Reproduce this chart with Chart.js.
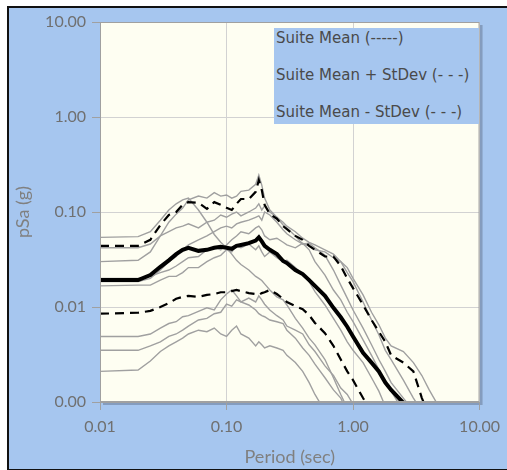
<!DOCTYPE html>
<html>
<head>
<meta charset="utf-8">
<script src="https://cdn.jsdelivr.net/npm/chart.js@4"></script>
<style>
  body { margin: 0; background: #fff; }
  #frame {
    position: absolute; left: 7px; top: 6px; width: 502px; height: 461px;
    border-top: 2px solid #111; border-left: 2px solid #111; border-bottom: 2px solid #111;
    background: rgb(166,198,239);
  }
  #wrap { position: absolute; left: 0; top: 0; width: 507px; height: 470px; }
  #legend {
    position: absolute; left: 274px; top: 28px; width: 205px; height: 96px;
    background: rgb(166,198,239); font: 15px "DejaVu Sans", Verdana, sans-serif; color: #4a4a4a;
  }
  #legend div { position: absolute; left: 2px; height: 18px; line-height: 18px; white-space: nowrap; }
</style>
</head>
<body>
<div id="frame"></div>
<div id="wrap"><canvas id="spectra" width="507" height="470"></canvas></div>
<div id="legend">
  <div style="top:1px">Suite Mean (-----)</div>
  <div style="top:38px">Suite Mean + StDev (- - -)</div>
  <div style="top:75px">Suite Mean - StDev (- - -)</div>
</div>
<script>
// periods (sec) shared by all curves
var periods = [0.01, 0.02, 0.025, 0.03, 0.035, 0.04, 0.045, 0.05, 0.06, 0.07, 0.08, 0.09,
  0.1, 0.11, 0.12, 0.13, 0.15, 0.17, 0.18, 0.19, 0.2, 0.22, 0.25, 0.28, 0.3, 0.35, 0.4,
  0.45, 0.5, 0.6, 0.7, 0.8, 0.9, 1.0, 1.2, 1.4, 1.6, 1.8, 2.0, 2.5, 3.0, 3.5, 4.0, 5.0]

var xTicks = [0.01, 0.1, 1, 10]
var yTicks = [0.001, 0.01, 0.1, 1, 10]

// suite statistics (g)
var suiteMean = [0.0192, 0.0192, 0.0217, 0.0265, 0.031, 0.036, 0.040, 0.042, 0.039, 0.040, 0.042, 0.043,
  0.042, 0.041, 0.044, 0.045, 0.047, 0.050, 0.054, 0.049, 0.044, 0.040, 0.036, 0.0305, 0.029, 0.0245, 0.0222,
  0.0192, 0.0167, 0.0131, 0.0098, 0.0078, 0.0062, 0.0049, 0.0033, 0.0026, 0.0021, 0.0016, 0.00134, 0.00098, 0.00073]
var meanPlusStd = [0.044, 0.044, 0.051, 0.073, 0.093, 0.100, 0.119, 0.127, 0.125, 0.108, 0.127, 0.119,
  0.111, 0.105, 0.122, 0.137, 0.137, 0.163, 0.217, 0.170, 0.119, 0.095, 0.085, 0.071, 0.066, 0.056, 0.051,
  0.044, 0.040, 0.034, 0.034, 0.027, 0.020, 0.0158, 0.0105, 0.0073, 0.0055, 0.0043, 0.0031, 0.0026, 0.0021, 0.0011, 0.00073]
var meanMinusStd = [0.0085, 0.0087, 0.0091, 0.0100, 0.0110, 0.0122, 0.0128, 0.0131, 0.0128, 0.0134, 0.0137, 0.0143,
  0.0143, 0.0147, 0.0151, 0.0147, 0.0140, 0.0137, 0.0134, 0.0140, 0.0143, 0.0151, 0.0137, 0.0122, 0.0113, 0.0102, 0.0095,
  0.0082, 0.0068, 0.0053, 0.0039, 0.0028, 0.0021, 0.0017, 0.0011, 0.00078]

// individual records (g)
var rec1 = [0.054, 0.055, 0.062, 0.082, 0.105, 0.122, 0.134, 0.140, 0.105, 0.078, 0.058, 0.048,
  0.042, 0.036, 0.031, 0.028, 0.0245, 0.021, 0.020, 0.019, 0.0175, 0.0151, 0.0128, 0.0119, 0.0105, 0.0076, 0.0060,
  0.0047, 0.0040, 0.0028, 0.0018, 0.0012, 0.00086]
var rec2 = [0.030, 0.031, 0.038, 0.056, 0.078, 0.095, 0.110, 0.134, 0.147, 0.140, 0.160, 0.147,
  0.151, 0.140, 0.147, 0.165, 0.170, 0.196, 0.245, 0.192, 0.140, 0.105, 0.088, 0.073, 0.068, 0.056, 0.046,
  0.044, 0.040, 0.038, 0.033, 0.030, 0.026, 0.020, 0.0134, 0.0088, 0.0065, 0.0047, 0.0039, 0.0034, 0.0026, 0.0019, 0.00134, 0.0008]
var rec3 = [0.0185, 0.0185, 0.020, 0.0245, 0.030, 0.034, 0.040, 0.045, 0.051, 0.056, 0.062, 0.068,
  0.071, 0.068, 0.075, 0.078, 0.082, 0.088, 0.091, 0.082, 0.100, 0.093, 0.078, 0.065, 0.059, 0.051, 0.046,
  0.047, 0.042, 0.035, 0.0245, 0.017, 0.0124, 0.0093, 0.006, 0.004, 0.0028, 0.0021, 0.0016, 0.0011, 0.0008]
var rec4 = [0.020, 0.020, 0.021, 0.023, 0.0245, 0.027, 0.030, 0.033, 0.034, 0.040, 0.043, 0.040,
  0.045, 0.051, 0.056, 0.062, 0.059, 0.068, 0.071, 0.065, 0.056, 0.051, 0.053, 0.048, 0.045, 0.042, 0.047,
  0.040, 0.030, 0.0217, 0.0151, 0.0119, 0.0088, 0.0070, 0.0045, 0.0031, 0.0022, 0.0016, 0.0013, 0.0008]
var rec5 = [0.0167, 0.017, 0.017, 0.0192, 0.021, 0.021, 0.023, 0.026, 0.026, 0.030, 0.033, 0.035,
  0.040, 0.038, 0.044, 0.042, 0.046, 0.040, 0.044, 0.038, 0.034, 0.038, 0.033, 0.030, 0.031, 0.026, 0.0217,
  0.0185, 0.0145, 0.0105, 0.0076, 0.0057, 0.0043, 0.0035, 0.0026, 0.0018, 0.0013, 0.0009]
var rec6 = [0.0049, 0.0049, 0.0052, 0.006, 0.0067, 0.007, 0.0079, 0.0081, 0.0090, 0.0098, 0.0093, 0.0119,
  0.0137, 0.0151, 0.0131, 0.0113, 0.0105, 0.0093, 0.0085, 0.0081, 0.0079, 0.0073, 0.007, 0.0067, 0.0057, 0.0047, 0.0037,
  0.0031, 0.0025, 0.0018, 0.00134, 0.0011, 0.0008]
var rec7 = [0.0035, 0.0035, 0.0039, 0.0043, 0.0049, 0.0052, 0.0057, 0.0063, 0.0073, 0.0076, 0.0085, 0.0088,
  0.0107, 0.0102, 0.0119, 0.0113, 0.0124, 0.0113, 0.0131, 0.0119, 0.0107, 0.0093, 0.0081, 0.0073, 0.0063, 0.0057, 0.0052,
  0.0040, 0.0034, 0.0024, 0.0019, 0.0014, 0.0012, 0.00095, 0.0008]
var rec8 = [0.0021, 0.00217, 0.0027, 0.0034, 0.0039, 0.0043, 0.0047, 0.0052, 0.0057, 0.0055, 0.006, 0.0052,
  0.0049, 0.0057, 0.0063, 0.0052, 0.0047, 0.0039, 0.0043, 0.0040, 0.0037, 0.0039, 0.0037, 0.0035, 0.0031, 0.0026, 0.0021,
  0.0016, 0.0012, 0.0008]
var rec9 = [0.042, 0.042, 0.046, 0.056, 0.062, 0.068, 0.071, 0.075, 0.068, 0.078, 0.082, 0.093,
  0.088, 0.095, 0.100, 0.091, 0.100, 0.110, 0.122, 0.105, 0.116, 0.100, 0.088, 0.078, 0.071, 0.062, 0.053,
  0.048, 0.045, 0.040, 0.036, 0.030, 0.023, 0.0185, 0.0113, 0.0073, 0.0051, 0.0035, 0.0028, 0.0017, 0.0011, 0.0008]

var records = [rec1, rec2, rec3, rec4, rec5, rec6, rec7, rec8, rec9]

function toPoints(values) {
  return values.map(function (v, i) { return { x: periods[i], y: v } })
}

var datasets = [
  { label: 'Suite Mean', data: toPoints(suiteMean), borderColor: '#000', borderWidth: 4, order: 0 },
  { label: 'Suite Mean + StDev', data: toPoints(meanPlusStd), borderColor: '#000', borderWidth: 2.2, borderDash: [9, 6], order: 1 },
  { label: 'Suite Mean - StDev', data: toPoints(meanMinusStd), borderColor: '#000', borderWidth: 2.2, borderDash: [9, 6], order: 1 }
]
records.forEach(function (r, i) {
  datasets.push({ label: 'Record ' + (i + 1), data: toPoints(r), borderColor: 'rgb(160,160,160)', borderWidth: 1.4, order: 2 })
})

// ivory plot area with a small shadow, then a grey frame
var plotFrame = {
  id: 'plotFrame',
  beforeDraw: function (chart) {
    var ctx = chart.ctx, a = chart.chartArea
    ctx.save()
    ctx.fillStyle = 'rgba(90,105,130,0.45)'
    ctx.fillRect(a.left + 3, a.top + 3, a.width, a.height)
    ctx.fillStyle = '#fefef2'
    ctx.fillRect(a.left, a.top, a.width, a.height)
    ctx.restore()
  },
  afterDraw: function (chart) {
    var ctx = chart.ctx, a = chart.chartArea
    ctx.save()
    ctx.strokeStyle = '#a0a0a0'
    ctx.lineWidth = 1
    ctx.strokeRect(a.left + 0.5, a.top + 0.5, a.width - 1, a.height - 1)
    ctx.restore()
  }
}

var tickFont = { family: 'Lato', size: 16 }
var titleFont = { family: 'Lato', size: 18 }

new Chart(document.getElementById('spectra'), {
  type: 'scatter',
  data: { datasets: datasets },
  options: {
    responsive: false,
    animation: false,
    layout: { padding: { top: 22, right: 22, bottom: 0, left: 0 } },
    elements: { point: { radius: 0 }, line: { tension: 0, fill: false } },
    datasets: { scatter: { showLine: true } },
    plugins: { legend: { display: false }, tooltip: { enabled: false } },
    scales: {
      x: {
        type: 'logarithmic', min: 0.01, max: 10,
        afterBuildTicks: function (s) { s.ticks = xTicks.map(function (v) { return { value: v } }) },
        afterFit: function (s) { s.height = 68 },
        ticks: { font: tickFont, color: '#707070', padding: 7, maxRotation: 0,
          callback: function (v) { return Number(v).toFixed(2) } },
        grid: { color: '#d2d2d2', tickColor: '#a0a0a0', tickLength: 8 },
        border: { color: '#a0a0a0' },
        title: { display: true, text: 'Period (sec)', font: titleFont, color: '#808080', padding: { top: 0, bottom: 2 } }
      },
      y: {
        type: 'logarithmic', min: 0.001, max: 10,
        afterBuildTicks: function (s) { s.ticks = yTicks.map(function (v) { return { value: v } }) },
        afterFit: function (s) { s.width = 100 },
        ticks: { font: tickFont, color: '#707070', padding: 6,
          callback: function (v) { return Number(v).toFixed(2) } },
        grid: { color: '#d2d2d2', tickColor: '#a0a0a0', tickLength: 8 },
        border: { color: '#a0a0a0' },
        title: { display: true, text: 'pSa (g)', font: titleFont, color: '#808080', padding: { top: 12, bottom: 0 } }
      }
    }
  },
  plugins: [plotFrame]
})
</script>
</body>
</html>
